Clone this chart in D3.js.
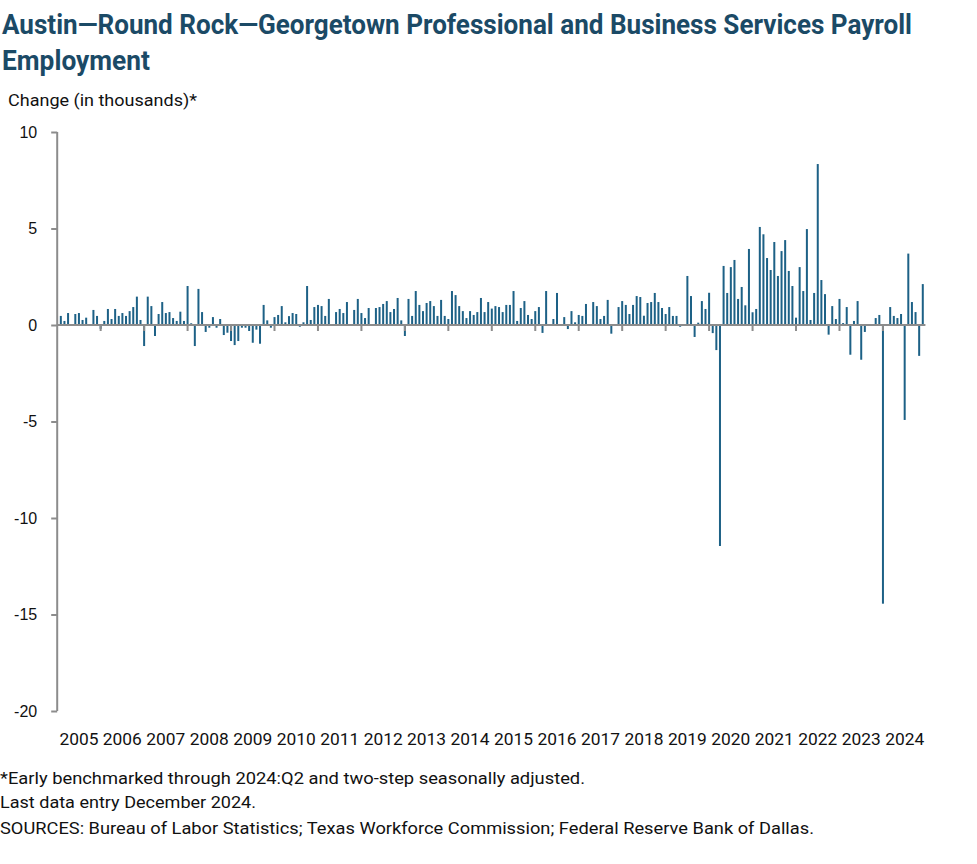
<!DOCTYPE html>
<html><head><meta charset="utf-8">
<script src="https://cdn.jsdelivr.net/npm/d3@7"></script>
<style>body{margin:0;background:#fff;}svg{display:block;}</style>
</head><body>
<svg id="chart" width="977" height="864"></svg>
<script>
// ---- data ----
const yearLabels = ["2005","2006","2007","2008","2009","2010","2011","2012","2013","2014",
  "2015","2016","2017","2018","2019","2020","2021","2022","2023","2024"];
const yTicks = [10, 5, 0, -5, -10, -15, -20];
// monthly change (thousands), Jan 2005 .. Dec 2024
const chg2005_2009 = [
  0.00, 0.47, 0.21, 0.62, 0.02, 0.57, 0.62, 0.26, 0.38, 0.02, 0.78, 0.47,
  -0.20, 0.21, 0.83, 0.31, 0.83, 0.47, 0.62, 0.47, 0.72, 0.93, 1.47, 0.26,
  -1.09, 1.47, 0.98, -0.57, 0.57, 1.19, 0.62, 0.67, 0.36, 0.21, 0.69, 0.21,
  2.02, 0.09, -1.09, 1.87, 0.67, -0.36, -0.14, 0.41, -0.14, 0.31, -0.52, -0.40,
  -0.83, -1.04, -0.83, -0.14, -0.14, -0.31, -0.92, -0.24, -0.97, 1.04, 0.24, -0.14
];
const chg2010_2014 = [
  0.41, 0.52, 0.98, 0.14, 0.46, 0.62, 0.57, -0.09, 0.14, 2.02, 0.26, 0.93,
  1.04, 0.98, 0.47, 1.35, 0.02, 0.67, 0.83, 0.62, 1.19, 0.02, 0.78, 1.35,
  0.62, 0.36, 0.88, 0.02, 0.88, 0.93, 1.09, 1.24, 0.67, 0.83, 1.40, 0.24,
  -0.57, 1.35, 0.47, 1.76, 1.04, 0.72, 1.14, 1.24, 0.98, 0.47, 1.30, 0.47,
  0.31, 1.76, 1.55, 0.98, 0.72, 0.36, 0.72, 0.52, 0.67, 1.40, 0.67, 1.19
];
const chg2015_2019 = [
  0.85, 0.98, 0.93, 0.67, 1.04, 1.04, 1.76, 0.21, 0.88, 1.24, 0.52, 0.31,
  0.72, 0.93, -0.41, 1.76, 0.02, 0.31, 1.66, 0.02, 0.41, -0.21, 0.72, 0.14,
  0.52, 0.47, 1.09, 0.02, 1.19, 0.98, 0.31, 0.47, 1.30, -0.45, 0.02, 0.93,
  1.24, 1.04, 0.57, 1.04, 1.50, 1.45, 0.48, 1.14, 1.19, 1.66, 1.19, 0.88,
  0.57, 0.93, 0.47, 0.47, -0.09, 0.02, 2.54, 1.50, -0.62, 0.12, 1.24, 0.83
];
const chg2020_2024 = [
  1.67, -0.42, -1.30, -11.45, 3.06, 1.66, 3.00, 3.37, 1.35, 1.97, 1.02, 3.94,
  0.66, 0.83, 5.08, 4.70, 3.47, 2.85, 4.30, 2.54, 3.83, 4.40, 2.80, 2.02,
  0.38, 3.00, 1.76, 4.97, 0.26, 1.66, 8.34, 2.33, 1.60, -0.50, 0.98, 0.31,
  1.35, 0.10, 0.93, -1.54, 0.21, 1.24, -1.80, -0.36, 0.02, 0.02, 0.36, 0.52,
  -14.44, 0.02, 0.93, 0.47, 0.36, 0.57, -4.92, 3.70, 1.19, 0.67, -1.60, 2.12
];
const monthlyChange = [].concat(chg2005_2009, chg2010_2014, chg2015_2019, chg2020_2024);

// ---- chart ----
const svg = d3.select("#chart");
const titleColor = "#1b4a66";
const barColor = "#1d6186";
const axisColor = "#8c8c8c";
const narrow = "'Liberation Sans Narrow', Roboto, 'Liberation Sans', sans-serif";

const x = d3.scaleLinear().domain([0, monthlyChange.length]).range([57.2, 57.2 + 240 * 3.6217]);
const y = d3.scaleLinear().domain([-20, 10]).range([711, 132]);

// title
svg.append("text").attr("x", 2).attr("y", 34)
  .attr("font-family", narrow).attr("font-weight", "bold").attr("font-size", 27)
  .attr("fill", titleColor).attr("textLength", 910).attr("lengthAdjust", "spacingAndGlyphs")
  .text("Austin\u2014Round Rock\u2014Georgetown Professional and Business Services Payroll");
svg.append("text").attr("x", 2).attr("y", 70)
  .attr("font-family", narrow).attr("font-weight", "bold").attr("font-size", 27)
  .attr("fill", titleColor).attr("textLength", 148).attr("lengthAdjust", "spacingAndGlyphs")
  .text("Employment");
svg.append("text").attr("x", 8).attr("y", 106)
  .attr("font-family", narrow).attr("font-size", 17).attr("fill", "#111")
  .attr("textLength", 189).attr("lengthAdjust", "spacingAndGlyphs")
  .text("Change (in thousands)*");

// bars
svg.append("g").selectAll("rect").data(monthlyChange).join("rect")
  .attr("x", (d, i) => x(i) - 1)
  .attr("width", 2)
  .attr("y", d => y(Math.max(0, d)))
  .attr("height", d => Math.abs(y(d) - y(0)))
  .attr("fill", barColor);

// zero line and year ticks
svg.append("line").attr("x1", x(0)).attr("x2", x(240) - 1).attr("y1", y(0)).attr("y2", y(0))
  .attr("stroke", axisColor).attr("stroke-width", 2);
svg.append("g").selectAll("line").data(d3.range(1, yearLabels.length)).join("line")
  .attr("x1", k => x(12 * k)).attr("x2", k => x(12 * k))
  .attr("y1", y(0)).attr("y2", y(0) + 6)
  .attr("stroke", axisColor).attr("stroke-width", 2);

// year labels
svg.append("g").selectAll("text").data(yearLabels).join("text")
  .attr("x", (d, k) => x(12 * k + 6)).attr("y", 745)
  .attr("text-anchor", "middle").attr("font-family", narrow).attr("font-size", 17)
  .attr("fill", "#111").attr("textLength", 39).attr("lengthAdjust", "spacingAndGlyphs")
  .text(d => d);

// y axis
const yAxis = svg.append("g").attr("transform", `translate(${x(0)},0)`)
  .call(d3.axisLeft(y).tickValues(yTicks).tickSize(6).tickPadding(14).tickFormat(d3.format("d")));
yAxis.select(".domain").attr("stroke", axisColor).attr("stroke-width", 2)
  .attr("d", `M0,${y(10)}V${y(-20)}`);
yAxis.selectAll(".tick line").attr("stroke", axisColor).attr("stroke-width", 2);
yAxis.selectAll(".tick text").attr("font-family", "'Liberation Sans', Arial, sans-serif")
  .attr("font-size", 16).attr("fill", "#111").text(d => d < 0 ? "-" + Math.abs(d) : d);

// footer
const notes = [
  ["*Early benchmarked through 2024:Q2 and two-step seasonally adjusted.", 784, 585],
  ["Last data entry December 2024.", 808, 256],
  ["SOURCES: Bureau of Labor Statistics; Texas Workforce Commission; Federal Reserve Bank of Dallas.", 834, 814]
];
svg.append("g").selectAll("text").data(notes).join("text")
  .attr("x", 0).attr("y", d => d[1])
  .attr("font-family", narrow).attr("font-size", 17).attr("fill", "#111")
  .attr("textLength", d => d[2]).attr("lengthAdjust", "spacingAndGlyphs")
  .text(d => d[0]);
</script>
</body></html>
